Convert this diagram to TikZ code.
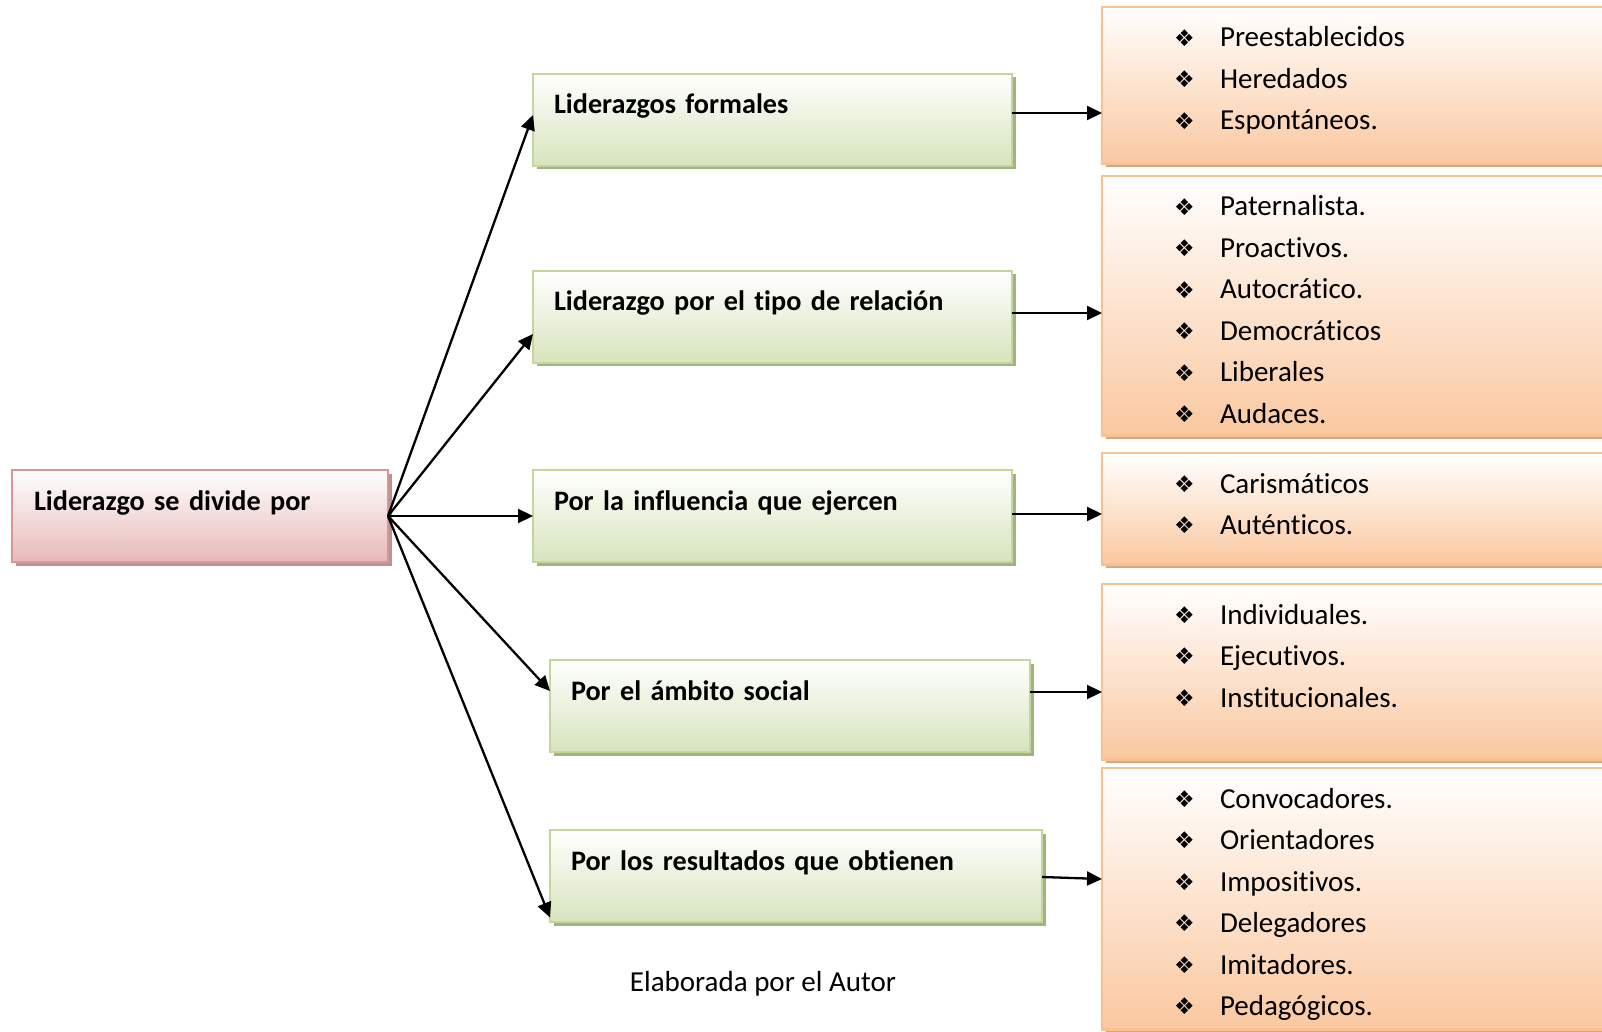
\documentclass[tikz,border=0pt]{standalone}
\usepackage{fontspec}
\setmainfont{Carlito}[Ligatures=NoCommon]
\newfontfamily\dejavu{DejaVu Sans}
\usetikzlibrary{arrows.meta,shadows}

\definecolor{rootfill}{HTML}{E6B9B8}
\definecolor{rootline}{HTML}{D99694}
\definecolor{rootshade}{HTML}{B89492}
\definecolor{grnfill}{HTML}{D7E4BD}
\definecolor{grnline}{HTML}{C3D69B}
\definecolor{grnshade}{HTML}{A2B283}
\definecolor{orgfill}{HTML}{FAC8A0}
\definecolor{orgline}{HTML}{FAC090}
\definecolor{orgshade}{HTML}{D6A683}

\newcommand{\itm}[1]{\makebox[23pt][l]{\raisebox{0.3pt}{\dejavu\fontsize{11.5}{11.5}\selectfont ❖}}#1}

\begin{document}
\begin{tikzpicture}[x=0.5pt,y=-0.5pt,
    box/.style={anchor=north west, draw, line width=1.25pt, inner ysep=0pt,
        outer sep=0pt, align=left, text height=20pt},
    rootbox/.style={box, draw=rootline, top color=white, bottom color=rootfill,
        inner xsep=11pt, text width=166pt, text depth=26pt,
        font=\bfseries\fontsize{14.1}{17}\selectfont,
        drop shadow={shadow xshift=1.75pt, shadow yshift=-1.75pt, fill=rootshade, opacity=1}},
    kindbox/.style={box, draw=grnline, top color=white, bottom color=grnfill,
        inner xsep=10.5pt, text depth=26pt,
        font=\bfseries\fontsize{14.1}{17}\selectfont,
        drop shadow={shadow xshift=1.75pt, shadow yshift=-1.75pt, fill=grnshade, opacity=1}},
    listbox/.style={box, draw=orgline, top color=white, bottom color=orgfill,
        inner xsep=36pt, text width=202pt,
        font=\fontsize{14.5}{20.75}\selectfont,
        drop shadow={shadow xshift=1.75pt, shadow yshift=-1.75pt, fill=orgshade, opacity=1}},
    arr/.style={-{Triangle[length=7.5pt,width=7pt]}, line width=1.15pt}
]
    \useasboundingbox (0,0) rectangle (1602,1032);
    \clip (0,0) rectangle (1602,1032);

    % Root
    \node[rootbox] (root) at (12,470) {Liderazgo se divide por};

    % Kinds of leadership
    \node[kindbox, text width=218.5pt] (formal) at (533,74) {Liderazgos formales};
    \node[kindbox, text width=218.5pt] (relacion) at (533,271) {Liderazgo por el tipo de relación};
    \node[kindbox, text width=218.5pt] (influencia) at (533,470) {Por la influencia que ejercen};
    \node[kindbox, text width=219pt] (ambito) at (550,660) {Por el ámbito social};
    \node[kindbox, text width=225pt] (resultados) at (550,830) {Por los resultados que obtienen};

    % Lists
    \node[listbox, text depth=58.5pt] (lformal) at (1102,7)
        {\itm{Preestablecidos}\\\itm{Heredados}\\\itm{Espontáneos.}};
    \node[listbox, text depth=109.75pt] (lrelacion) at (1102,176)
        {\itm{Paternalista.}\\\itm{Proactivos.}\\\itm{Autocrático.}\\
         \itm{Democráticos}\\\itm{Liberales}\\\itm{Audaces.}};
    \node[listbox, text depth=35.7pt] (linfluencia) at (1102,453)
        {\itm{Carismáticos}\\\itm{Auténticos.}};
    \node[listbox, text depth=67.8pt] (lambito) at (1102,584)
        {\itm{Individuales.}\\\itm{Ejecutivos.}\\\itm{Institucionales.}};
    \node[listbox, text depth=110.75pt] (lresultados) at (1102,768)
        {\itm{Convocadores.}\\\itm{Orientadores}\\\itm{Impositivos.}\\
         \itm{Delegadores}\\\itm{Imitadores.}\\\itm{Pedagógicos.}};

    % Root to kinds
    \draw[arr] (root.east) -- ([yshift=2.5pt]formal.west);
    \draw[arr] (root.east) -- ([yshift=-8.5pt]relacion.west);
    \draw[arr] (root.east) -- (influencia.west);
    \draw[arr] (root.east) -- ([yshift=7.5pt]ambito.west);
    \draw[arr] (root.east) -- ([yshift=-20.75pt]resultados.west);

    % Kinds to lists
    \draw[arr] ([yshift=3.5pt]formal.east) -- ([yshift=3.5pt]formal.east -| lformal.west);
    \draw[arr] ([yshift=2pt]relacion.east) -- ([yshift=2pt]relacion.east -| lrelacion.west);
    \draw[arr] ([yshift=1pt]influencia.east) -- ([yshift=1pt]influencia.east -| linfluencia.west);
    \draw[arr] ([yshift=7pt]ambito.east) -- ([yshift=7pt]ambito.east -| lambito.west);
    \draw[arr] ([yshift=-0.5pt]resultados.east) -- ([yshift=-1.5pt]resultados.east -| lresultados.west);

    \node[anchor=base, font=\fontsize{14.5}{17}\selectfont] (autor) at (763,991) {Elaborada por el Autor};
\end{tikzpicture}
\end{document}
